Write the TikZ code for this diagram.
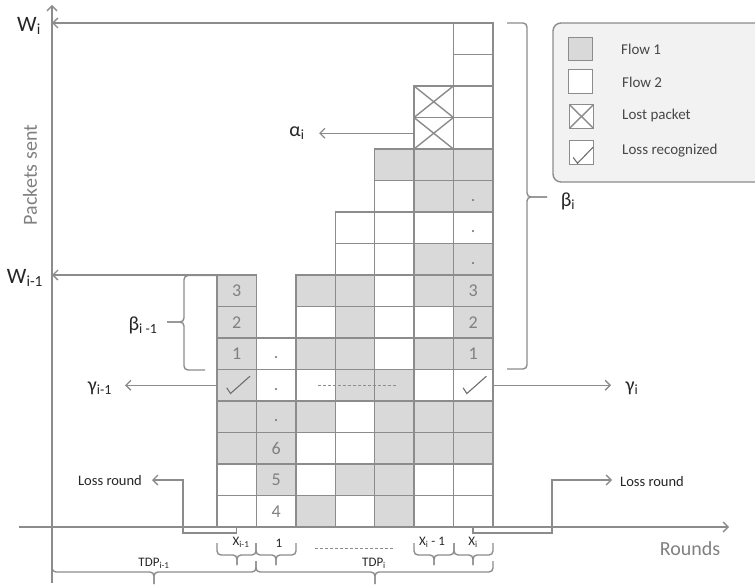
\documentclass[tikz,border=0pt]{standalone}
\usepackage{fontspec}
\setmainfont{Carlito}
\usetikzlibrary{arrows.meta,calc}
\definecolor{lc}{RGB}{140,140,140}
\definecolor{cg}{RGB}{217,217,217}
\definecolor{tg}{RGB}{128,128,128}
\definecolor{tx}{RGB}{38,38,38}
\definecolor{legbg}{RGB}{242,242,242}
\definecolor{ck}{RGB}{110,110,110}
\newcommand\bracedown[6]{%
  \draw[brc] (#1,#4) |- (#3,#5) -- (#3,#6);
  \draw[brc] (#2,#4) |- (#3,#5) -- (#3,#6);}
\newcommand\chkmark[4]{%
  \draw[chk] ([shift={(#2)}]#1.north west) -- ([shift={(#3)}]#1.north west) -- ([shift={(#4)}]#1.north west);}
\begin{document}
\begin{tikzpicture}[x=1pt,y=-1pt,
  cell/.style={draw=lc, line width=1.4pt, minimum width=39.4pt, minimum height=31.5pt, inner sep=0pt, outer sep=0pt},
  legsq/.style={draw=lc, line width=1.4pt, minimum width=24pt, minimum height=23.5pt, inner sep=0pt, outer sep=0pt},
  arr/.style={draw=lc, line width=1.4pt, -{Straight Barb[length=5pt,width=10pt]}},
  ln/.style={draw=lc, line width=1.4pt},
  brc/.style={draw=lc, line width=1.4pt, rounded corners=4pt},
  chk/.style={draw=ck, line width=1.1pt},
  dsh/.style={draw=lc, line width=1pt, dash pattern=on 3pt off 2pt},
  greek/.style={text=tx, font=\fontsize{20}{24}\selectfont, inner sep=0pt},
  wlbl/.style={text=tx, font=\fontsize{22}{26}\selectfont, inner sep=0pt},
  num/.style={text=tg, font=\fontsize{18}{20}\selectfont, inner sep=0pt},
  dotl/.style={text=tg, font=\fontsize{18}{20}\selectfont, inner sep=0pt, yshift=-4pt},
  small/.style={text=tx, font=\fontsize{13}{15}\selectfont, inner sep=0pt},
  lossl/.style={text=tx, font=\fontsize{14.5}{17}\selectfont, inner sep=0pt},
  leglbl/.style={text=tx!85, font=\fontsize{15}{17}\selectfont, anchor=west, inner sep=0pt},
  axlbl/.style={text=tg, font=\fontsize{20}{24}\selectfont, inner sep=0pt}]
\useasboundingbox (0,0) rectangle (755,586);
\clip (0,0) rectangle (755,586);

% legend
\draw[draw=lc, line width=1.4pt, fill=legbg, rounded corners=8pt] (553,23) rectangle (780,182);
\node[legsq, fill=cg] (leg1) at (580.5,49) {};
\node[legsq, fill=white] (leg2) at (580.5,81.5) {};
\node[legsq, fill=white] (leg3) at (581.5,116.5) {};
\node[legsq, fill=white] (leg4) at (581.5,152.5) {};
\draw[ln] (leg3.north west) -- (leg3.south east) (leg3.north east) -- (leg3.south west);
\chkmark{leg4}{3.7,16.7}{8,22.5}{23.5,6.5}
\node[leglbl] (lt1) at (621,49) {Flow 1};
\node[leglbl] (lt2) at (622,82) {Flow 2};
\node[leglbl] (lt3) at (622,116) {Lost packet};
\node[leglbl] (lt4) at (622,151) {Loss recognized};

% cells
\foreach \col/\spec in {
  0/{white,white,cg,cg,cg,cg,cg,cg},
  1/{white,cg,cg,cg,white,white},
  2/{cg,white,white,cg,white,cg,white,cg},
  3/{white,cg,white,white,cg,cg,cg,cg,white,white},
  4/{cg,cg,cg,cg,cg,white,white,white,white,white,white,cg},
  5/{white,white,cg,cg,white,cg,white,cg,cg,white,cg,cg,white,white},
  6/{white,white,cg,cg,white,cg,cg,cg,cg,white,cg,cg,white,white,white,white}} {
  \foreach \t [count=\r from 0] in \spec {
    \node[cell, fill=\t] (c-\col-\r) at ({217+39.4*(\col+0.5)}, {527-31.5*(\r+0.5)}) {};
  }
}
% lost packets
\foreach \r in {12,13} {
  \draw[ln] (c-5-\r.north west) -- (c-5-\r.south east) (c-5-\r.north east) -- (c-5-\r.south west);
}
% loss recognized
\chkmark{c-0-4}{9.7,18.3}{13.5,24}{33,6.7}
\chkmark{c-6-4}{9.7,18.3}{13.5,24}{33,6.7}

% numbers
\node[num] (n03) at (c-0-7) {3};
\node[num] (n02) at (c-0-6) {2};
\node[num] (n01) at (c-0-5) {1};
\node[num] (n63) at (c-6-7) {3};
\node[num] (n62) at (c-6-6) {2};
\node[num] (n61) at (c-6-5) {1};
\node[num] (n14) at (c-1-0) {4};
\node[num] (n15) at (c-1-1) {5};
\node[num] (n16) at (c-1-2) {6};
\node[dotl] (d13) at (c-1-3) {.};
\node[dotl] (d14) at (c-1-4) {.};
\node[dotl] (d15) at (c-1-5) {.};
\node[dotl] (d68) at (c-6-8) {.};
\node[dotl] (d69) at (c-6-9) {.};
\node[dotl] (d610) at (c-6-10) {.};

% dashed lines
\coordinate (da1) at (318,385.25);
\coordinate (da2) at (397,385.25);
\draw[dsh] (da1) -- (da2);
\coordinate (db1) at (315,548);
\coordinate (db2) at (393,548);
\draw[dsh] (db1) -- (db2);

% axes
\coordinate (yax-bot) at (52,583);
\coordinate (yax-top) at (52,5);
\coordinate (xax-start) at (19,527);
\coordinate (xax-end) at (729,527);
\draw[arr] (yax-bot) -- (yax-top);
\draw[arr] (xax-start) -- (xax-end);
\node[axlbl, rotate=90] (ylab) at (30,175) {Packets sent};
\node[axlbl] (xlab) at (690,549) {Rounds};

% W lines
\draw[arr] (c-6-15.north east) -- (c-6-15.north east -| yax-top);
\draw[arr] (c-0-7.north west) -- (c-0-7.north west -| yax-top);
\node[wlbl] (Wi) at (29,26) {W\textsubscript{i}};
\node[wlbl] (Wim) at (25,278) {W\textsubscript{i-1}};

% alpha
\coordinate (alpha-tip) at (319,133.25);
\draw[arr] (c-5-12.west) -- (alpha-tip);
\node[greek] (alpha) at (297,133) {α\textsubscript{i}};

% gammas
\coordinate (g1-tip) at (125,385.25);
\draw[arr] (c-0-4.west) -- (g1-tip);
\node[greek] (g1) at (100,388) {γ\textsubscript{i-1}};
\coordinate (g2-tip) at (611,385.25);
\draw[arr] (c-6-4.east) -- (g2-tip);
\node[greek] (g2) at (632,388) {γ\textsubscript{i}};

% betas
\draw[brc] (217,275.5) -| (184,322) -- (167,322);
\draw[brc] (205,370) -| (184,322) -- (167,322);
\node[greek] (b1) at (143,325) {β\textsubscript{i -1}};
\draw[brc] (507,23) -| (527,197) -- (547,197);
\draw[brc] (507,369) -| (527,197) -- (547,197);
\node[greek] (b2) at (568,201) {β\textsubscript{i}};

% loss rounds
\coordinate (lr1-knee) at (183,480);
\coordinate (lr1-tip) at (152,480);
\draw[arr] (c-0-0.south) -- ++(0,6) -| (lr1-knee) -- (lr1-tip);
\node[lossl] (lr1) at (110,481) {Loss round};
\coordinate (lr2-knee) at (552,480);
\coordinate (lr2-tip) at (612,480);
\draw[arr] (c-6-0.south) -- ++(0,6) -| (lr2-knee) -- (lr2-tip);
\node[lossl] (lr2) at (652,482) {Loss round};

% bottom braces
\bracedown{217}{256}{237}{543}{555}{565}
\bracedown{256}{296}{276}{543}{555}{565}
\bracedown{414}{454}{434}{543}{555}{565}
\bracedown{454}{493}{473}{543}{555}{565}
\bracedown{52}{256}{154}{561}{572}{584}
\bracedown{256}{493}{375}{561}{572}{584}
\node[small] (bx1) at (241,542) {X\textsubscript{i-1}};
\node[small] (bx2) at (279,543) {1};
\node[small] (bx3) at (432,542) {X\textsubscript{i} - 1};
\node[small] (bx4) at (473,542) {X\textsubscript{i}};
\node[small] (tdp1) at (154,563) {TDP\textsubscript{i-1}};
\node[small] (tdp2) at (374,563) {TDP\textsubscript{i}};
\end{tikzpicture}
\end{document}
